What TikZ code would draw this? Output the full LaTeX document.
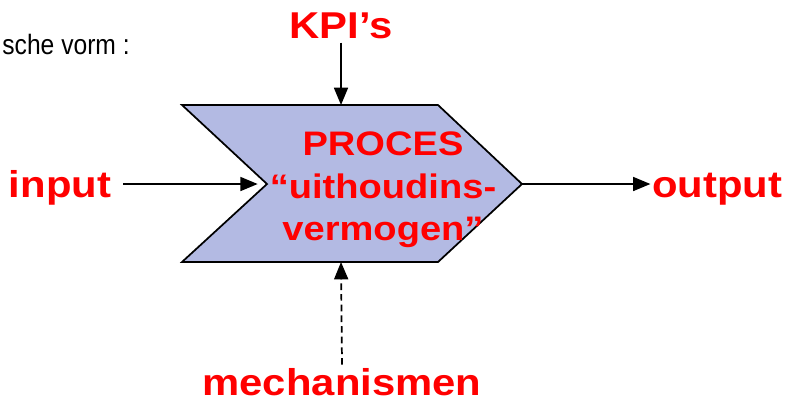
\documentclass[tikz,border=0pt]{standalone}
\usepackage{fontspec}
\setmainfont{Liberation Sans}
\newfontfamily\diagfont[FakeStretch=1.12]{Liberation Sans}
\newfontfamily\notefont[FakeStretch=0.88]{Liberation Sans}
\usetikzlibrary{arrows.meta}
\definecolor{procfill}{RGB}{179,186,227}
\definecolor{kpired}{RGB}{255,0,0}

\begin{document}
\begin{tikzpicture}[
  x=0.75pt, y=-0.75pt,
  lbl/.style={text=kpired, inner sep=0pt, anchor=base,
              font=\diagfont\bfseries\fontsize{28}{32}\selectfont},
  flow/.style={-{Triangle[length=13pt,width=10.5pt]}, line width=1.3pt},
  proc/.style={draw, fill=procfill, line width=1.3pt, line join=miter}
]
\useasboundingbox (0,0) rectangle (795,405);

% the process chevron
\coordinate (tl) at (182,105);
\coordinate (tr) at (438,105);
\coordinate (tip) at (522,184);
\coordinate (br) at (438,262);
\coordinate (bl) at (182,262);
\coordinate (notch) at (267,184);
\coordinate (top) at (341,105);
\coordinate (bottom) at (341,262);
\draw[proc] (tl) -- (tr) -- (tip) -- (br) -- (bl) -- (notch) -- cycle;

\node[lbl, anchor=center, align=center,
      font=\diagfont\bfseries\fontsize{25.5}{32}\selectfont]
  (proces) at (383,190) {PROCES\\“uithoudins-\\vermogen”};

% labels round it
\node[inner sep=0pt, anchor=base east, font=\notefont\fontsize{21}{24}\selectfont]
  (vorm) at (130,54) {sche vorm :};
\node[lbl] (kpi) at (341,38) {KPI’s};
\node[lbl] (input) at (60,197) {input};
\node[lbl] (output) at (717,197) {output};
\node[lbl] (mech) at (342,395) {mechanismen};

\draw[flow] (kpi.south) ++(0,4) -- (top);
\draw[flow] ([xshift=9pt]input.east |- notch) -- ([xshift=-7pt]notch);
\draw[flow] (tip) -- ([xshift=-1pt]output.west |- tip);
\draw[flow, dashed, dash pattern=on 5pt off 3pt] (mech.north) ++(0,-3) -- (bottom);
\end{tikzpicture}
\end{document}
